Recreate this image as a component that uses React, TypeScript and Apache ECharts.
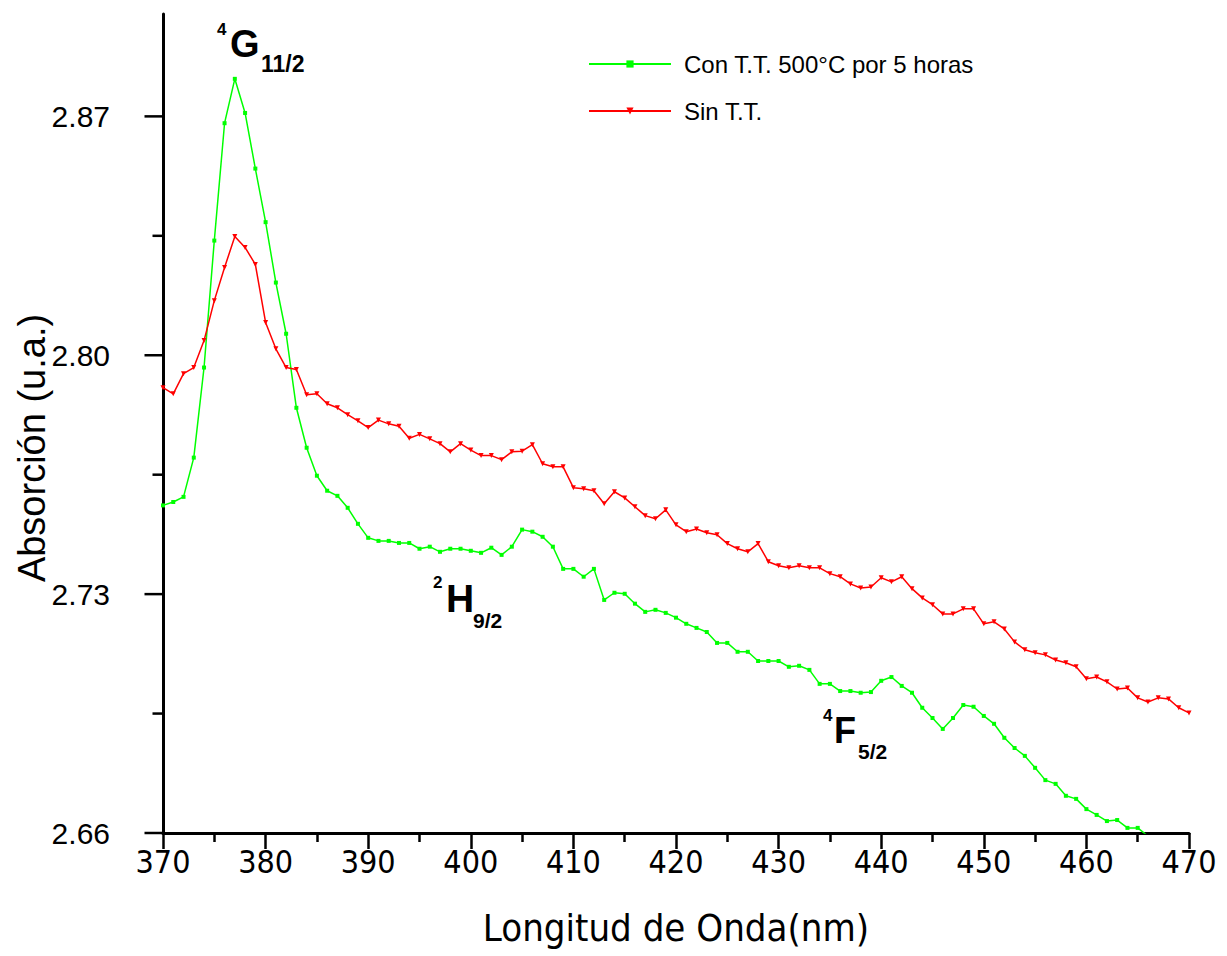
import React, { useEffect, useRef } from 'react';
import * as echarts from 'echarts';

const wavelengthCon = [
  370, 371, 372, 373, 374, 375, 376, 377, 378, 379,
  380, 381, 382, 383, 384, 385, 386, 387, 388, 389,
  390, 391, 392, 393, 394, 395, 396, 397, 398, 399,
  400, 401, 402, 403, 404, 405, 406, 407, 408, 409,
  410, 411, 412, 413, 414, 415, 416, 417, 418, 419,
  420, 421, 422, 423, 424, 425, 426, 427, 428, 429,
  430, 431, 432, 433, 434, 435, 436, 437, 438, 439,
  440, 441, 442, 443, 444, 445, 446, 447, 448, 449,
  450, 451, 452, 453, 454, 455, 456, 457, 458, 459,
  460, 461, 462, 463, 464, 465, 466,
];
const absorcionCon = [
  2.756, 2.757, 2.7585, 2.77, 2.7964, 2.8336, 2.868, 2.881, 2.871, 2.8547,
  2.839, 2.8213, 2.8063, 2.7846, 2.7729, 2.7647, 2.7603, 2.7588, 2.7553, 2.7506,
  2.7465, 2.7456, 2.7456, 2.745, 2.745, 2.7433, 2.7439, 2.7424, 2.7433, 2.7433,
  2.7427, 2.7421, 2.7436, 2.7415, 2.7439, 2.7489, 2.7483, 2.7468, 2.7439, 2.7374,
  2.7374, 2.7351, 2.7374, 2.7283, 2.7304, 2.7301, 2.7272, 2.7248, 2.7254, 2.7245,
  2.7231, 2.7213, 2.7201, 2.7189, 2.7157, 2.7157, 2.7131, 2.7131, 2.7104, 2.7104,
  2.7104, 2.7087, 2.709, 2.7078, 2.7037, 2.7037, 2.7016, 2.7016, 2.7011, 2.7013,
  2.7046, 2.7057, 2.7031, 2.7011, 2.6967, 2.6937, 2.6905, 2.6937, 2.6975, 2.697,
  2.6943, 2.692, 2.6879, 2.6849, 2.6826, 2.6791, 2.6755, 2.6744, 2.6709, 2.67,
  2.667, 2.6653, 2.6635, 2.6638, 2.6615, 2.6615, 2.6591,
];

const wavelengthSin = [
  370, 371, 372, 373, 374, 375, 376, 377, 378, 379,
  380, 381, 382, 383, 384, 385, 386, 387, 388, 389,
  390, 391, 392, 393, 394, 395, 396, 397, 398, 399,
  400, 401, 402, 403, 404, 405, 406, 407, 408, 409,
  410, 411, 412, 413, 414, 415, 416, 417, 418, 419,
  420, 421, 422, 423, 424, 425, 426, 427, 428, 429,
  430, 431, 432, 433, 434, 435, 436, 437, 438, 439,
  440, 441, 442, 443, 444, 445, 446, 447, 448, 449,
  450, 451, 452, 453, 454, 455, 456, 457, 458, 459,
  460, 461, 462, 463, 464, 465, 466, 467, 468, 469,
  470,
];
const absorcionSin = [
  2.7905, 2.7887, 2.7946, 2.7964, 2.8043, 2.816, 2.8257, 2.8348, 2.8316, 2.8266,
  2.8096, 2.8019, 2.7964, 2.7958, 2.7884, 2.7887, 2.7858, 2.7846, 2.7826, 2.7808,
  2.7788, 2.781, 2.7799, 2.7792, 2.7757, 2.7768, 2.7755, 2.7741, 2.7717, 2.7741,
  2.7722, 2.7706, 2.7706, 2.7694, 2.7717, 2.7719, 2.7738, 2.7682, 2.7673, 2.7673,
  2.7612, 2.7609, 2.7603, 2.7565, 2.76, 2.7582, 2.7556, 2.753, 2.7521, 2.7547,
  2.7503, 2.7483, 2.7491, 2.748, 2.7474, 2.7448, 2.7433, 2.7424, 2.7448, 2.7395,
  2.7383, 2.7377, 2.7383, 2.7377, 2.7377, 2.736, 2.7351, 2.733, 2.7318, 2.7321,
  2.7348, 2.7336, 2.7351, 2.7316, 2.7289, 2.7269, 2.7242, 2.7242, 2.7257, 2.7257,
  2.7213, 2.7219, 2.7198, 2.716, 2.7137, 2.7128, 2.7122, 2.7107, 2.7099, 2.7087,
  2.7052, 2.7057, 2.7043, 2.7022, 2.7025, 2.6996, 2.6984, 2.6996, 2.6993, 2.6967,
  2.6952,
];

const seriesNames = ['Con T.T. 500°C por 5 horas', 'Sin T.T.'];
const yMajorTicks = [2.66, 2.73, 2.8, 2.87];
const yMinorTicks = [2.695, 2.765, 2.835];
const xMin = 370;
const xMax = 470;
const yMin = 2.66;
const yMax = 2.9;

const SANS = '"Liberation Sans", Arial, sans-serif';
const NARROW = '"Liberation Sans Narrow", "Arial Narrow", "DejaVu Sans Condensed", sans-serif';

export default function App() {
  const ref = useRef<HTMLDivElement>(null);

  useEffect(() => {
    document.body.style.margin = '0';
    const chart = echarts.init(ref.current as HTMLDivElement, null, { renderer: 'svg' });

    const pair = (xs: number[], ys: number[]) => xs.map((x, i) => [x, ys[i]]);

    const annot = (x: number, y: number, text: string, size: number) => ({
      type: 'text',
      x,
      y,
      style: {
        text,
        font: `bold ${size}px ${SANS}`,
        fill: '#000',
        align: 'left',
        verticalAlign: 'middle',
      },
    });

    // y-axis tick marks, placed through the axis scale
    const tickData = [
      ...yMajorTicks.map((v) => [xMin, v, 17]),
      ...yMinorTicks.map((v) => [xMin, v, 9]),
    ];

    chart.setOption({
      animation: false,
      backgroundColor: '#fff',
      grid: { left: 163, right: 38, top: 14, bottom: 123, containLabel: false, outerBoundsMode: 'none' },
      legend: {
        orient: 'vertical',
        left: 583,
        top: 44,
        itemWidth: 82,
        itemHeight: 9,
        itemGap: 17,
        textStyle: { fontFamily: SANS, fontSize: 24, lineHeight: 30, color: '#000', padding: [0, 0, 0, 8] },
        data: seriesNames,
      },
      xAxis: {
        type: 'value',
        min: xMin,
        max: xMax,
        interval: 10,
        axisLine: { show: true, lineStyle: { color: '#000', width: 3 } },
        axisTick: { show: true, inside: false, length: 16, lineStyle: { color: '#000', width: 2.5 } },
        minorTick: { show: true, splitNumber: 2, length: 9, lineStyle: { color: '#000', width: 2.5 } },
        splitLine: { show: false },
        axisLabel: { fontFamily: NARROW, fontSize: 32, color: '#000', margin: 13 },
        name: 'Longitud de Onda(nm)',
        nameLocation: 'middle',
        nameGap: 76,
        nameTextStyle: { fontFamily: NARROW, fontSize: 38, color: '#000' },
      },
      yAxis: {
        type: 'value',
        position: 'left',
        min: yMin,
        max: yMax,
        axisLine: { show: true, lineStyle: { color: '#000', width: 3 } },
        axisTick: { show: false },
        splitLine: { show: false },
        axisLabel: {
          customValues: yMajorTicks,
          formatter: (v: number) => v.toFixed(2),
          fontFamily: SANS,
          fontSize: 30,
          color: '#000',
          margin: 53,
        },
      },
      series: [
        {
          name: seriesNames[0],
          type: 'line',
          data: pair(wavelengthCon, absorcionCon),
          symbol: 'rect',
          symbolSize: 4,
          showAllSymbol: true,
          lineStyle: { color: '#00ff00', width: 1.5 },
          itemStyle: { color: '#00ff00' },
          clip: true,
        },
        {
          name: seriesNames[1],
          type: 'line',
          data: pair(wavelengthSin, absorcionSin),
          symbol: 'triangle',
          symbolRotate: 180,
          symbolSize: 5,
          showAllSymbol: true,
          lineStyle: { color: '#ff0000', width: 1.5 },
          itemStyle: { color: '#ff0000' },
          clip: true,
        },
        {
          name: 'yTicks',
          type: 'custom',
          silent: true,
          clip: false,
          data: tickData,
          renderItem: (_params: any, api: any) => {
            const p = api.coord([api.value(0), api.value(1)]);
            const len = api.value(2);
            return {
              type: 'line',
              shape: { x1: p[0] - 1.5 - len, y1: p[1], x2: p[0], y2: p[1] },
              style: { stroke: '#000', lineWidth: 2.5 },
            };
          },
        },
      ],
      graphic: [
        {
          type: 'text',
          x: 32,
          y: 448,
          rotation: Math.PI / 2,
          style: {
            text: 'Absorción (u.a.)',
            font: `38px ${SANS}`,
            fill: '#000',
            align: 'center',
            verticalAlign: 'middle',
          },
        },
        annot(217, 29, '4', 17),
        annot(230, 44, 'G', 38),
        annot(261, 64, '11/2', 23),
        annot(433, 582, '2', 17),
        annot(446, 598, 'H', 39),
        annot(473, 620, '9/2', 21),
        annot(823, 715, '4', 17),
        annot(834, 730, 'F', 36),
        annot(858, 751, '5/2', 21),
      ],
    });

    return () => chart.dispose();
  }, []);

  return <div ref={ref} style={{ width: 1227, height: 956 }} />;
}
